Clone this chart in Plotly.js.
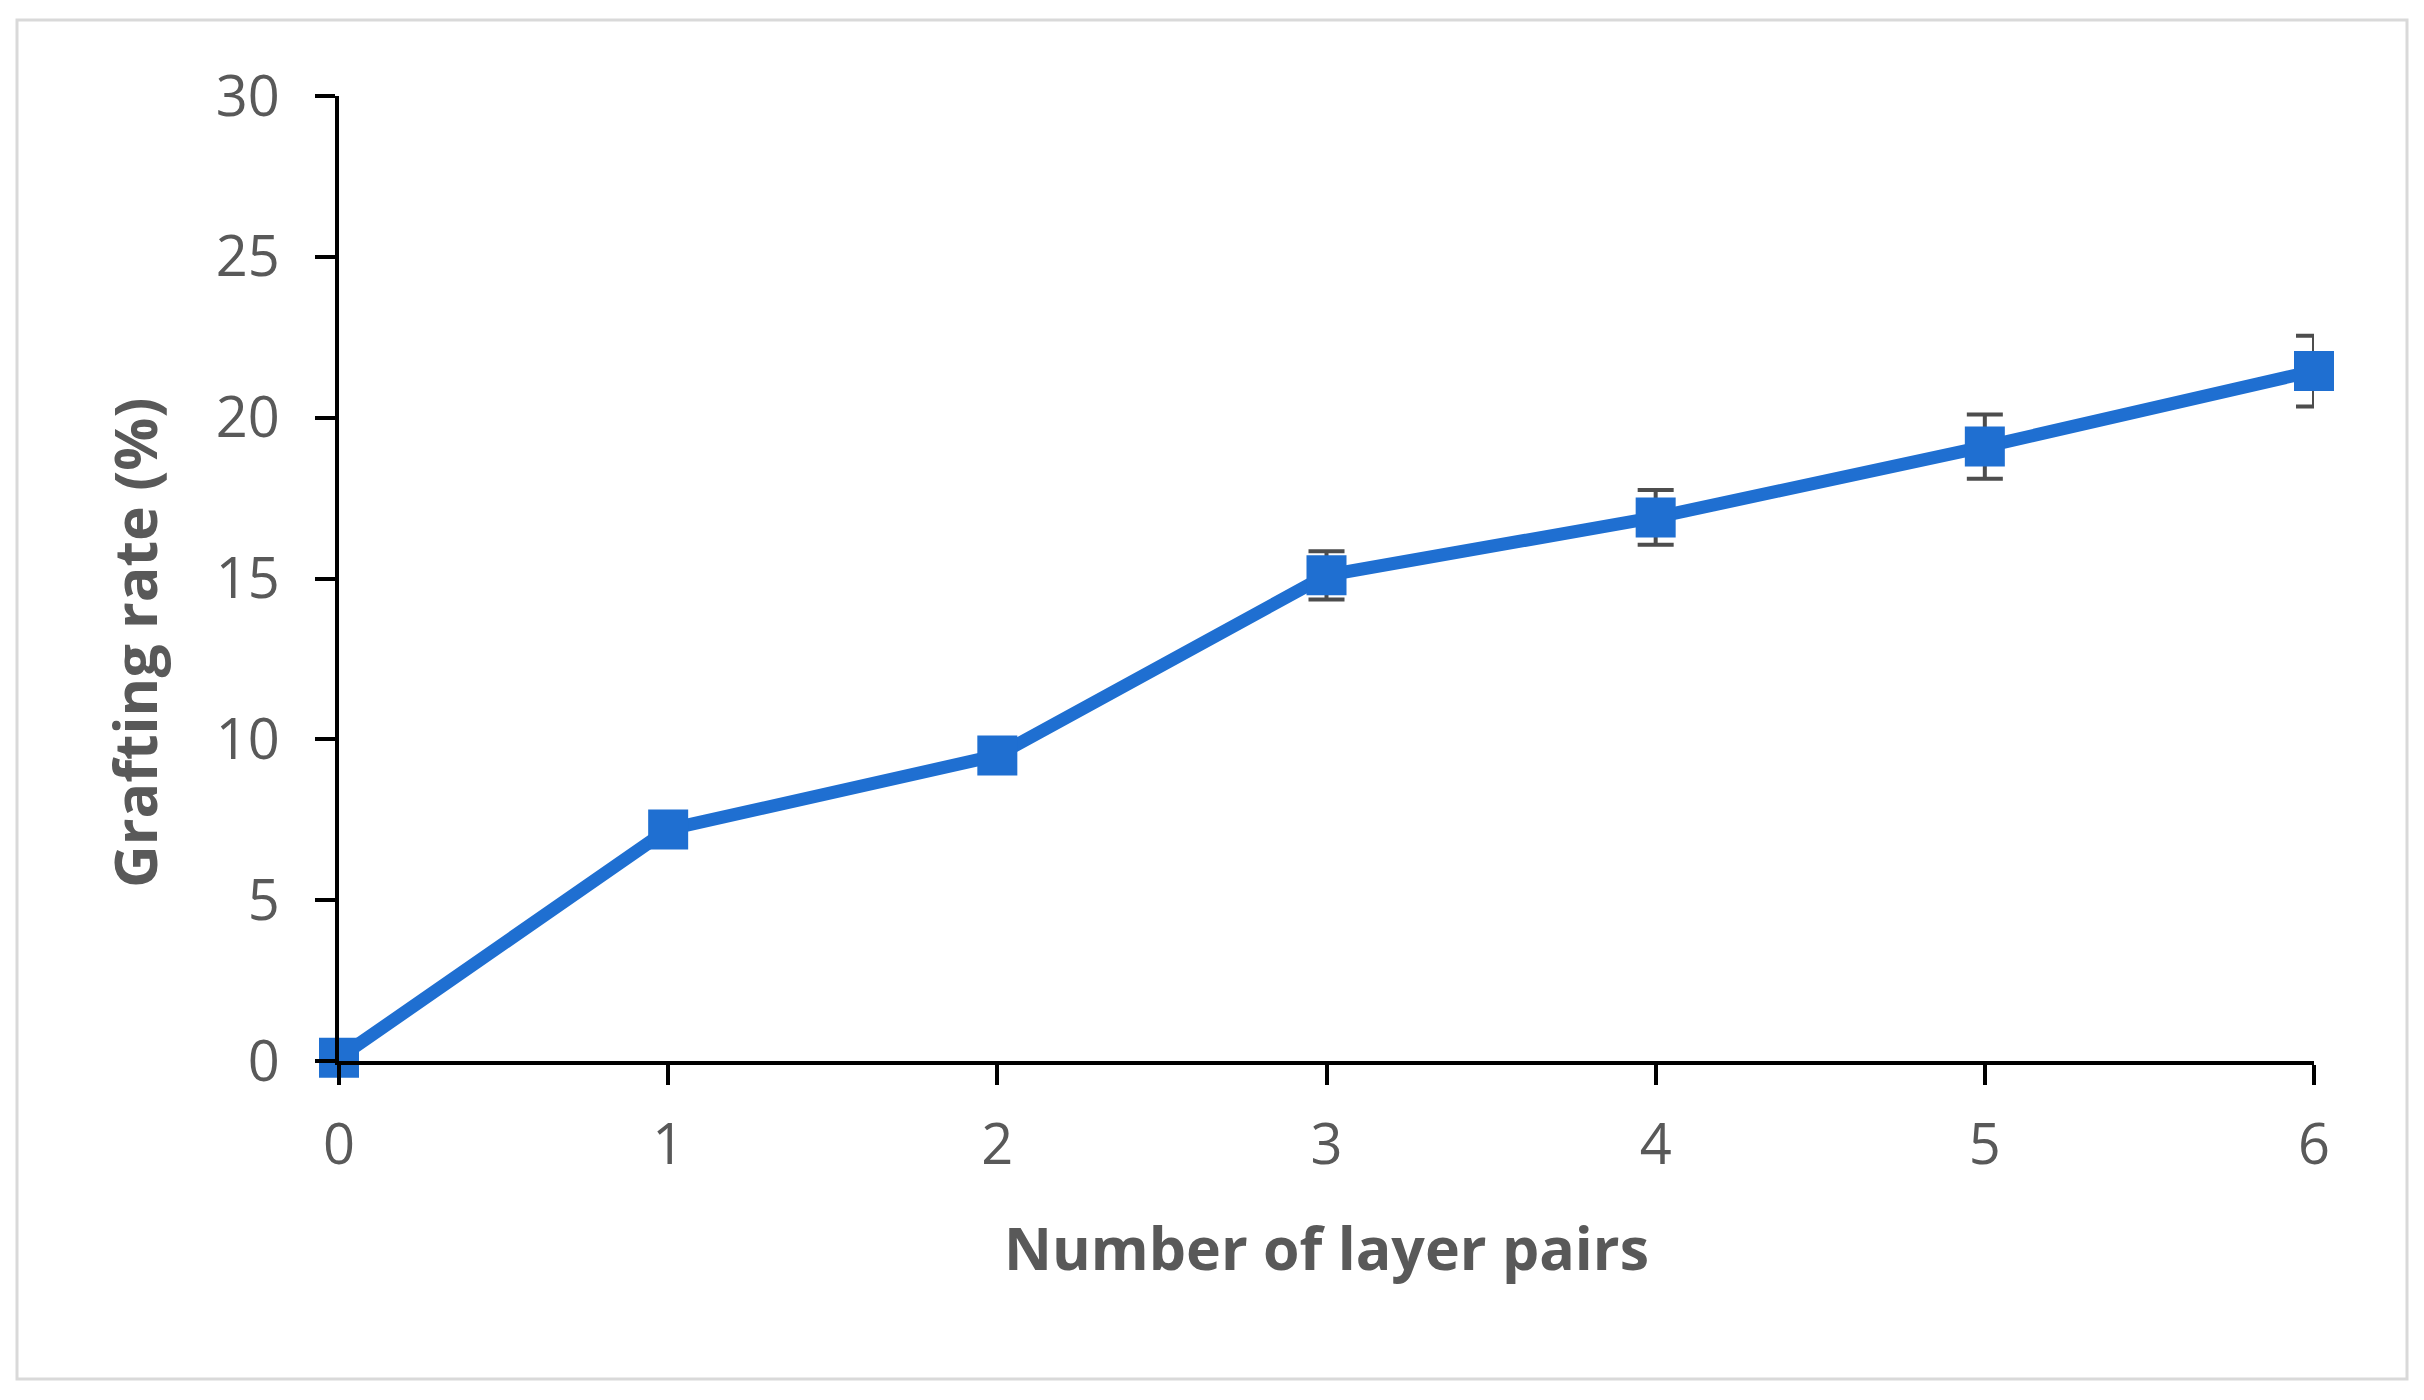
<!DOCTYPE html>
<html>
<head>
<meta charset="utf-8">
<script src="https://cdn.plot.ly/plotly-3.0.1.min.js"></script>
<style>
  html, body { margin: 0; padding: 0; background: #ffffff; }
  #chart { width: 2424px; height: 1400px; }
</style>
</head>
<body>
<div id="chart"></div>
<script>
// Data
const layerPairs = [0, 1, 2, 3, 4, 5, 6];
const graftingRate = [0.1, 7.2, 9.5, 15.1, 16.9, 19.1, 21.45];
const graftingError = [0.3, 0.4, 0.5, 0.75, 0.85, 1.0, 1.1];
const xTickValues = [0, 1, 2, 3, 4, 5, 6];
const yTickValues = [0, 5, 10, 15, 20, 25, 30];
const xTitle = "Number of layer pairs";
const yTitle = "Grafting rate (%)";

const W = 2424, H = 1400;
const M = { l: 339, r: 110, t: 96, b: 339 };
const pw = W - M.l - M.r, ph = H - M.t - M.b;
// outer frame (pixels) -> paper coords
const frame = { x0: 17, y0: 20, x1: 2407, y1: 1379 };
const yTitlePos = { x: 134, y: 643 };
const px2paperX = x => (x - M.l) / pw;
const px2paperY = y => 1 - (y - M.t) / ph;

const blue = "#1f6fd1";
const gray = "#595959";
const fontFam = "'Open Sans', 'Noto Sans', sans-serif";

const trace = {
  x: layerPairs,
  y: graftingRate,
  type: "scatter",
  mode: "lines+markers",
  line: { color: blue, width: 13 },
  marker: { symbol: "square", size: 40, color: blue, line: { width: 0 } },
  error_y: { type: "data", array: graftingError, visible: true, color: "#4d4d4d", thickness: 4, width: 18 },
  cliponaxis: false,
  showlegend: false,
  hoverinfo: "x+y"
};

const layout = {
  width: W, height: H,
  margin: M,
  paper_bgcolor: "#ffffff",
  plot_bgcolor: "#ffffff",
  font: { family: fontFam, color: gray },
  showlegend: false,
  xaxis: {
    range: [0, 6],
    tickvals: xTickValues,
    ticktext: xTickValues.map(String),
    showgrid: false, zeroline: false,
    showline: true, linecolor: "#000000", linewidth: 4,
    ticks: "outside", ticklen: 20, tickwidth: 4, tickcolor: "#000000",
    tickfont: { family: fontFam, size: 56, color: gray },
    ticklabelstandoff: 12,
    automargin: false,
    title: { text: xTitle, font: { family: fontFam, size: 59, color: gray, weight: "bold" }, standoff: 50 }
  },
  yaxis: {
    range: [0, 30],
    tickvals: yTickValues,
    ticktext: yTickValues.map(String),
    showgrid: false, zeroline: false,
    showline: true, linecolor: "#000000", linewidth: 4,
    ticks: "outside", ticklen: 20, tickwidth: 4, tickcolor: "#000000",
    tickfont: { family: fontFam, size: 56, color: gray },
    ticklabelstandoff: 24,
    automargin: false
  },
  annotations: [{
    text: yTitle,
    xref: "paper", yref: "paper",
    x: px2paperX(yTitlePos.x), y: px2paperY(yTitlePos.y),
    xanchor: "center", yanchor: "middle",
    textangle: -90, showarrow: false,
    font: { family: fontFam, size: 59, color: gray, weight: "bold" }
  }],
  shapes: [{
    type: "rect", xref: "paper", yref: "paper", layer: "below",
    x0: px2paperX(frame.x0), x1: px2paperX(frame.x1),
    y0: px2paperY(frame.y1), y1: px2paperY(frame.y0),
    line: { color: "#d9d9d9", width: 3 },
    fillcolor: "rgba(0,0,0,0)"
  }]
};

Plotly.newPlot("chart", [trace], layout, { displayModeBar: false, staticPlot: true });
</script>
</body>
</html>
